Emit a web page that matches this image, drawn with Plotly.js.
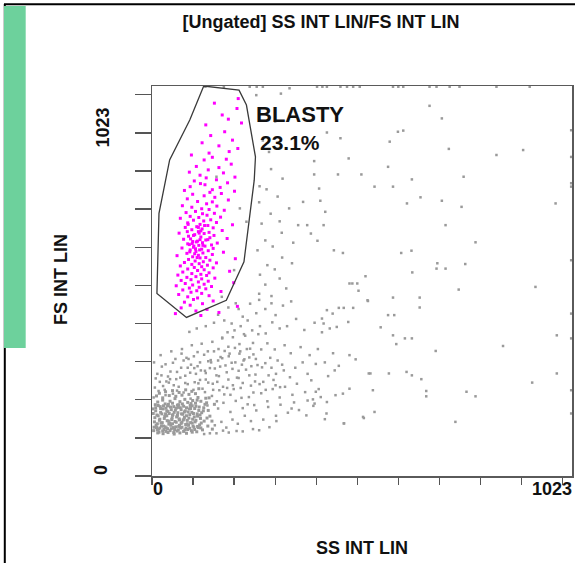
<!DOCTYPE html>
<html>
<head>
<meta charset="utf-8">
<script src="https://cdn.plot.ly/plotly-3.0.1.min.js"></script>
<style>html,body{margin:0;padding:0;background:#fff;}#chart{width:575px;height:563px;}</style>
</head>
<body>
<div id="chart"></div>
<script>
// ---- Data (SS INT LIN, FS INT LIN), channels 0..1023 ----
const gateSS = [126,212,230,252,249,224,181,84,12,17,43,92,126];
const gateFS = [1023,1012,973,837,776,562,461,416,479,689,829,934,1023];

const blastEvents = [
[152,978],[207,964],[171,947],[186,936],[131,921],[218,926],[177,903],[143,893],[196,881],[122,874],[163,866],[209,859],[188,851],[139,847],[210,990],[96,842],[147,836],[181,831],[127,829],[193,818],[108,812],[163,809],[137,803],[91,797],[174,795],[117,789],[202,784],[132,782],[157,777],[103,774],[184,769],[129,764],[93,759],[166,757],[147,751],[201,747],
[118,767],[79,749],[141,744],[169,741],[99,739],[127,735],[153,731],[86,727],[186,724],[111,720],[147,719],[133,714],[74,709],[158,708],[97,705],[121,701],[139,699],[176,697],[106,694],[83,691],[152,689],[123,688],[134,684],[93,681],[167,679],[114,678],[69,676],[143,672],[101,671],[126,669],[157,665],[87,664],[117,660],[196,659],[136,657],[109,654],[81,652],[149,651],[122,648],[97,646],[171,644],[113,641],[139,639],[66,637],[127,636],[104,633],[151,631],[89,629],[119,627],[141,625],[183,623],[77,621],[131,619],[111,616],[99,615],[123,612],[159,611],[87,609],[145,606],[114,605],[129,603],[101,600],[73,598],[149,597],[121,595],[93,593],[137,591],[107,589],[174,587],[124,585],[85,584],[147,581],[113,579],[61,578],[99,575],[131,573],[117,572],[203,570],[89,568],[141,566],[105,564],[125,562],[79,560],[157,559],[115,557],[97,555],[135,553],[69,551],[121,549],[103,547],[149,546],[87,543],[127,541],[111,539],[189,537],[75,535],[139,533],[97,531],[119,529],[63,527],[133,526],[107,523],[85,521],[153,519],[121,517],[95,515],[71,513],[137,511],[113,509],[199,507],[81,505],[127,503],[99,501],[59,499],[145,497],[115,495],[91,493],[131,491],[75,488],[109,486],[168,484],[95,482],[121,479],[65,476],[139,473],[87,470],[111,467],[101,463],[149,459],[79,456],[123,452],[93,448],[208,445],[71,441],[134,437],[107,433],[163,429],[57,426],[119,421],
[102,603],[108,614],[94,622],[119,643],[104,583],[116,593],[91,607],[128,657],[86,641],[113,652],[106,596],[98,610],[117,620],[92,588],[124,605],[110,573],[101,631],[88,660],[136,620],[115,637]
];

const coreEvents = [
[4,119],[11,127],[17,115],[23,131],[29,122],[34,117],[41,136],[47,124],[53,114],[58,129],[64,121],[71,138],[77,117],[83,126],[89,133],[96,119],[102,128],[109,116],[116,134],[123,121],
[6,142],[13,137],[19,149],[25,140],[31,156],[37,145],[43,139],[49,152],[56,143],[62,159],[67,147],[73,141],[79,154],[86,146],[92,161],[99,149],[105,142],[111,157],[118,151],[127,144],
[3,164],[9,171],[15,158],[21,167],[27,176],[33,163],[39,169],[45,181],[51,161],[57,173],[63,166],[69,179],[75,162],[81,171],[88,168],[94,177],[101,164],[107,183],[114,172],[121,166],
[8,187],[14,194],[20,182],[26,199],[32,189],[38,184],[44,196],[50,191],[56,203],[62,186],[68,195],[74,189],[80,201],[87,193],[93,185],[99,198],[106,191],[112,206],[119,196],[129,188],
[5,128],[10,133],[16,123],[22,139],[28,131],[35,126],[40,144],[46,133],[52,127],[59,141],[65,130],[70,126],[76,147],[82,135],[87,122],[94,140],[100,131],[107,146],[113,127],[120,139],
[7,153],[12,160],[18,146],[24,163],[30,151],[36,158],[42,164],[48,148],[54,167],[60,155],[66,150],[72,163],[78,149],[84,158],[90,152],[97,167],[103,155],[110,163],[117,160],[125,171],
[2,176],[9,179],[15,185],[21,177],[28,184],[34,178],[40,188],[47,174],[53,182],[59,178],[65,187],[71,174],[77,183],[84,179],[91,176],[98,184],[104,177],[115,181],[126,179],[133,192],
[11,210],[18,217],[26,205],[33,221],[42,211],[50,224],[58,209],[66,219],[73,212],[82,226],[90,214],[97,222],[106,216],[114,229],[131,204],
[13,121],[19,126],[26,118],[32,129],[38,124],[44,119],[50,137],[55,122],[61,118],[67,133],[73,128],[80,121],[86,137],[92,125],[98,139],[104,122],[111,130],[119,126],
[14,113],[27,111],[39,114],[54,110],[68,113],[84,112],[98,115],[36,171],[50,159],[64,180],[79,168],[95,190],[110,199],[137,172],[141,157],[136,131],[146,144],[152,188],[147,123],[134,152],[139,205]
];

const cloudEvents = [
[7,232],[19,247],[31,226],[44,254],[53,238],[69,258],[81,244],[93,271],[104,246],[119,277],[131,253],[141,283],[157,264],[166,287],[182,272],[194,297],[211,276],[223,303],[242,288],[253,307],
[13,268],[24,287],[39,261],[51,297],[61,273],[77,303],[87,284],[102,314],[111,288],[127,318],[137,301],[151,327],[161,303],[177,328],[187,314],[202,336],[213,321],[231,333],[247,319],
[5,298],[21,317],[33,293],[47,327],[57,307],[73,333],[84,310],[97,343],[111,325],[121,347],[136,327],[147,352],[162,333],[171,361],[186,339],[197,364],[213,346],[227,368],[246,349],[259,372],
[16,223],[27,236],[41,245],[51,216],[65,234],[77,219],[87,241],[101,226],[113,243],[123,229],[137,245],[149,226],[159,247],[173,234],[186,253],[197,238],[211,257],[221,244],[237,264],[251,248],
[9,256],[23,264],[35,248],[45,274],[59,254],[71,284],[81,263],[95,292],[107,268],[117,298],[129,276],[143,304],[153,282],[167,312],[179,290],[189,321],[203,298],[215,327],[225,306],[239,334],
[4,206],[33,212],[61,224],[94,203],[129,220],[146,210],[164,225],[191,213],[216,231],[241,237],[271,247],[284,264],[301,238],[291,284],[276,296],[306,303],[321,277],[266,332],[281,348],[299,332],
[153,133],[169,142],[181,127],[196,148],[209,137],[226,158],[241,144],[254,172],[271,148],[283,181],[302,158],[313,187],[331,166],[346,193],[358,173],[379,198],[393,184],[411,207],
[161,177],[174,192],[191,168],[204,197],[221,178],[236,207],[249,186],[266,217],[281,196],[294,228],[311,206],[324,234],[342,213],[353,242],[373,220],[388,251],[406,228],
[157,112],[173,119],[187,114],[206,118],[221,117],[246,123],[261,120],[286,128],[141,112],[127,110],
[302,268],[317,292],[336,259],[349,284],[367,298],[379,268],[399,294],[338,322],[323,343],[362,338],[384,317],[404,333],[421,298],[429,262],[414,377],[371,383],[351,412],[329,393],[396,402],[441,322],
[244,382],[263,393],[277,374],[293,403],[311,387],[233,408],[254,427],[276,438],[301,422],[319,447],[216,393],[201,382],[224,372],[291,453],[339,458],[261,462],[184,377],[171,363],[211,438],[239,452],
[151,402],[176,408],[194,400],[221,418],[131,393],[109,387],[91,378],[161,423],[186,442],[204,453],
[261,478],[276,502],[291,472],[311,518],[327,492],[263,528],[281,553],[299,542],[317,573],[341,558],[257,592],[276,618],[294,602],[316,638],[344,612],[267,662],[289,688],[311,668],[334,702],[261,718],[279,752],[306,733],
[135,185],[158,196],[176,214],[199,228],[218,205],[233,188],[247,219],[262,241],[277,226],[296,252],[312,233],[148,242],[163,262],[183,231],[207,258],[229,279],[252,266],[268,285],[288,310],[144,298],[171,309],[196,281],[219,292],[237,311],[257,291],[131,270],[117,252],[103,283],[89,307],[72,321]
];

const sparseEvents = [
[314,1003],[676,971],[706,938],[599,903],[612,906],[579,877],[426,901],[459,886],[723,858],[839,842],[904,855],[395,826],[479,833],[575,811],[395,791],[453,791],[510,791],[759,785],[633,778],[407,754],[542,759],[587,759],[654,731],[621,715],[706,722],[754,706],[983,715],[368,719],[410,722],[422,693],[356,658],[378,658],[418,658],[387,636],[715,658],[403,617],[788,613],[607,585],[632,591],[465,585],[443,592],[695,558],[715,544],[693,544],[763,556],[634,534],[520,524],[934,496],[747,489],[587,468],[652,468],[575,422],[590,422],[652,442],[557,390],[587,369],[855,341],[986,369],[691,328],[633,361],[986,269],[926,245],[620,273],[633,264],[656,254],[766,221],[788,209],[668,223],[668,209],[538,225],[542,168],[739,142],[516,152],[467,138],[447,212],[532,269],[577,269],[525,461],[503,486],[481,505],[488,505],[500,505],[478,404],[450,391],[433,387],[455,441],[467,441],[490,441],[426,435],[440,426],[414,413],[418,400],[526,459],[616,361],[595,346],[481,317],[496,306],[455,289],[445,277],[528,269],[481,229],[465,216],[426,194],[514,155],[468,138],[421,149],[376,159],[340,177],[303,144],[425,164],[399,221],[392,201],[396,190],
[254,999],[335,1017],[270,880],[290,805],[262,760],[300,930],[285,850],[318,780],[157,785],[214,702],[230,667],[200,540],[170,470]
];

const topEdgeSS = [130,175,238,255,270,402,415,426,459,475,490,506,587,600,612,676,693,725,749,839,920];
const rightEdgeFS = [907,837,768,759,566,426,361,225,164];

// ---- Styling ----
const FONT = '"Liberation Sans", Arial, Helvetica, sans-serif';
const GREY = '#9a9a9a';

const xs = a => a.map(p => p[0]);
const ys = a => a.map(p => p[1]);

const traces = [
  {type:'scatter', mode:'markers', x:xs(coreEvents), y:ys(coreEvents), marker:{symbol:'square', size:3, color:GREY}, hoverinfo:'skip'},
  {type:'scatter', mode:'markers', x:xs(cloudEvents), y:ys(cloudEvents), marker:{symbol:'square', size:2.5, color:GREY}, hoverinfo:'skip'},
  {type:'scatter', mode:'markers', x:xs(sparseEvents), y:ys(sparseEvents), marker:{symbol:'square', size:2.5, color:GREY}, hoverinfo:'skip'},
  {type:'scatter', mode:'markers', x:topEdgeSS, y:topEdgeSS.map(() => 1021), marker:{symbol:'square', size:2.5, color:GREY}, hoverinfo:'skip'},
  {type:'scatter', mode:'markers', x:rightEdgeFS.map(() => 1021), y:rightEdgeFS, marker:{symbol:'square', size:2.5, color:GREY}, hoverinfo:'skip'},
  {type:'scatter', mode:'markers', x:xs(blastEvents), y:ys(blastEvents), marker:{symbol:'square', size:3, color:'#ff00ff'}, hoverinfo:'skip'},
  {type:'scatter', mode:'lines', x:gateSS, y:gateFS, line:{color:'#3a3a3a', width:1.3}, hoverinfo:'skip'}
];

const W = 575, H = 563, L = 152, R = 3, T = 86, B = 87;
const PW = W - L - R, PH = H - T - B;
const px = v => (v - L) / PW;          // pixel x -> paper x
const py = v => (H - B - v) / PH;      // pixel y -> paper y

function label(text, x, y, size, angle) {
  return {text:'<b>' + text + '</b>', xref:'paper', yref:'paper', x:px(x), y:py(y),
          xanchor:'center', yanchor:'middle', showarrow:false, textangle:angle || 0,
          font:{family:FONT, size:size, color:'#111'}};
}

const axisBase = {range:[0,1023], tickmode:'linear', tick0:0, dtick:100, ticks:'outside',
  tickwidth:1.3, tickcolor:'#555', showticklabels:false, showgrid:false, zeroline:false,
  showline:true, linecolor:'#5a5a5a', linewidth:1.5, mirror:true, fixedrange:true};

const layout = {
  width:W, height:H,
  margin:{l:L, r:R, t:T, b:B, pad:0},
  paper_bgcolor:'#ffffff', plot_bgcolor:'#ffffff',
  showlegend:false,
  font:{family:FONT, color:'#111'},
  title:{text:'<b>[Ungated] SS INT LIN/FS INT LIN</b>', font:{family:FONT, size:18, color:'#111'},
         xref:'container', yref:'container', x:321/W, y:1 - 22/H, xanchor:'center', yanchor:'middle'},
  xaxis:Object.assign({}, axisBase, {ticklen:7}),
  yaxis:Object.assign({}, axisBase, {ticklen:16}),
  shapes:[
    {type:'line', xref:'paper', yref:'paper', x0:px(4.8), x1:px(4.8), y0:py(4), y1:py(563), line:{color:'#000', width:2}},
    {type:'line', xref:'paper', yref:'paper', x0:px(4), x1:px(575), y0:py(4.3), y1:py(4.3), line:{color:'#000', width:2}},
    {type:'rect', xref:'paper', yref:'paper', x0:px(4), x1:px(25.7), y0:py(348), y1:py(6), fillcolor:'#6dd19c', line:{width:0}}
  ],
  annotations:[
    label('0', 157.7, 489, 18),
    label('1023', 551.7, 489, 18),
    label('0', 101, 470, 18, -90),
    label('1023', 103, 127.5, 18, -90),
    label('SS INT LIN', 362, 548, 18),
    label('FS INT LIN', 61, 280, 18, -90),
    label('BLASTY', 300, 115, 22),
    label('23.1%', 290, 142, 21)
  ]
};

Plotly.newPlot('chart', traces, layout, {displayModeBar:false, staticPlot:true});
</script>
</body>
</html>
